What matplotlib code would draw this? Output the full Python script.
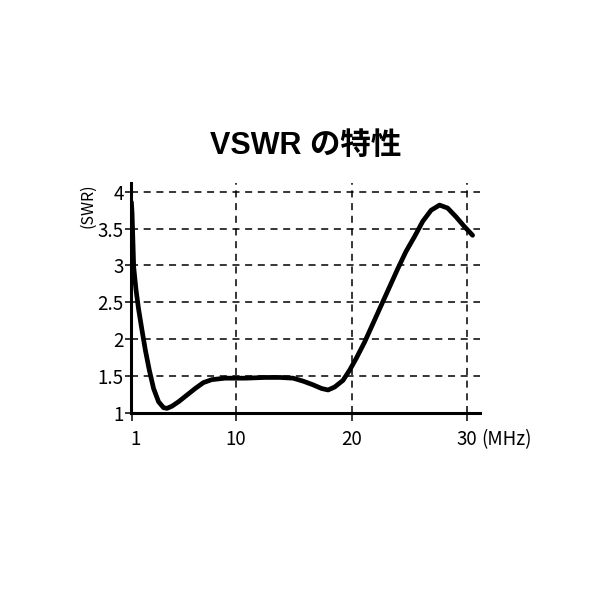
import matplotlib
matplotlib.use("Agg")
import matplotlib.pyplot as plt
from matplotlib.transforms import blended_transform_factory, ScaledTranslation

plt.rcParams['font.family'] = ['Noto Sans CJK JP', 'DejaVu Sans']

title = "VSWR の特性"
y_label = "(SWR)"
x_unit = "(MHz)"

freq = [0.95, 1.01, 1.15, 1.35, 1.58, 1.87, 2.16, 2.5, 2.87, 3.3, 3.73, 4.03, 4.46,
        5.03, 5.75, 6.47, 7.18, 7.9, 9.05, 10.8, 12.5, 13.8, 14.94, 15.8, 16.66,
        17.4, 17.96, 18.53, 19.25, 19.83, 20.4, 21.12, 21.84, 22.56, 23.28, 24.0,
        24.7, 25.43, 26.15, 26.87, 27.6, 28.3, 29.03, 29.74, 30.46]
swr = [3.86, 3.71, 2.98, 2.67, 2.40, 2.12, 1.85, 1.58, 1.33, 1.15, 1.07, 1.06, 1.09,
       1.15, 1.24, 1.33, 1.41, 1.45, 1.47, 1.47, 1.48, 1.48, 1.47, 1.43, 1.38,
       1.33, 1.31, 1.35, 1.44, 1.58, 1.74, 1.96, 2.21, 2.46, 2.71, 2.96,
       3.19, 3.39, 3.60, 3.75, 3.82, 3.78, 3.66, 3.53, 3.41]

x_ticks = [1, 10, 20, 30]
x_tick_labels = ["1", "10", "20", "30"]
y_ticks = [1, 1.5, 2, 2.5, 3, 3.5, 4]
y_tick_labels = ["1", "1.5", "2", "2.5", "3", "3.5", "4"]

fig = plt.figure(figsize=(6, 6), dpi=100)
ax = fig.add_axes([0.218, 0.312, 0.582, 0.383])

ax.plot(freq, swr, color='black', lw=3.4, solid_capstyle='round',
        solid_joinstyle='round', zorder=3)

ax.set_xlim(0.9, 31.1)
ax.set_ylim(1, 4.12)

ax.set_xticks(x_ticks)
ax.set_xticklabels(x_tick_labels)
ax.set_yticks(y_ticks)
ax.set_yticklabels(y_tick_labels)

ax.grid(True, color='black', lw=1.1, linestyle=(0, (4.6, 3.7)))
ax.set_axisbelow(True)

for s in ['top', 'right']:
    ax.spines[s].set_visible(False)
for s in ['left', 'bottom']:
    ax.spines[s].set_linewidth(2.2)
    ax.spines[s].set_zorder(4)

ax.tick_params(axis='y', direction='out', length=4, width=1.1, labelsize=13.5, pad=1)
ax.tick_params(axis='x', direction='out', length=6, width=1.1, labelsize=13.5, pad=6)

first = ax.get_xticklabels()[0]
first.set_transform(first.get_transform() + ScaledTranslation(4 / 100, 0, fig.dpi_scale_trans))

ax.set_title(title, fontsize=22, fontweight='bold', pad=21,
             family=['Liberation Sans', 'Noto Sans CJK JP'])
ax.set_ylabel(y_label, fontsize=11.5, labelpad=6)
ax.yaxis.set_label_coords(-0.10, 0.9)

trans = blended_transform_factory(ax.transData, ax.transAxes)
ax.annotate(x_unit, xy=(30, 0), xycoords=trans, xytext=(10, -12),
            textcoords='offset points', fontsize=13.5, ha='left', va='top')

fig.savefig("out.png", dpi=100)
